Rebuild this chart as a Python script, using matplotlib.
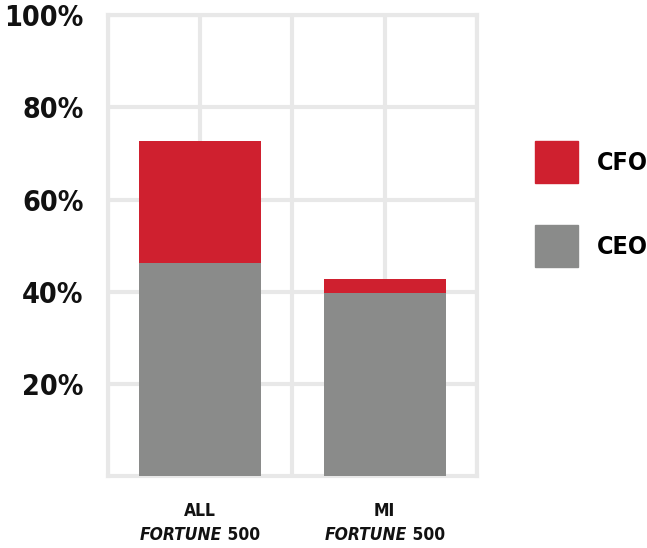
import matplotlib
matplotlib.use("Agg")
import matplotlib.pyplot as plt
from matplotlib.patches import Patch

categories = ["ALL", "MI"]
ceo = [46.2, 39.7]
cfo = [26.5, 3.1]
yticks = [20, 40, 60, 80, 100]
ytick_labels = ["20%", "40%", "60%", "80%", "100%"]

red = "#cf202f"
gray = "#8a8b8a"
grid_c = "#e8e8e8"
font = dict(family="DejaVu Sans", stretch="condensed", weight="bold")

fig = plt.figure(figsize=(6.47, 5.48), dpi=100)
ax = fig.add_axes([0.1669, 0.1305, 0.5703, 0.8421])

x = list(range(len(categories)))
ax.bar(x, ceo, width=0.66, color=gray, zorder=3)
ax.bar(x, cfo, bottom=ceo, width=0.66, color=red, zorder=3)

ax.set_xlim(-0.5, 1.5)
ax.set_ylim(0, 100)
ax.set_yticks(yticks)
ax.set_yticklabels(ytick_labels, color="#111111", **font)
ax.set_xticks([-0.5, 0, 0.5, 1, 1.5])
ax.set_xticklabels([])
ax.tick_params(length=0, pad=17.5, labelsize=20.5)
ax.grid(True, color=grid_c, linewidth=3, zorder=0)
for s in ax.spines.values():
    s.set_color(grid_c)
    s.set_linewidth(3)

# category labels: "ALL" / "MI" over italic FORTUNE + 500
fig.canvas.draw()
r = fig.canvas.get_renderer()
for xi, cat in zip(x, categories):
    ax.annotate(cat, xy=(xi, 0), xycoords=("data", "axes fraction"),
                xytext=(0, -18.5), textcoords="offset points",
                ha="center", va="top", fontsize=12.5, color="#111111", **font)
    t1 = ax.annotate("FORTUNE", xy=(xi, 0), xycoords=("data", "axes fraction"),
                     xytext=(0, -35.5), textcoords="offset points",
                     ha="left", va="top", fontsize=12.5, style="italic",
                     color="#111111", **font)
    t2 = ax.annotate(" 500", xy=(xi, 0), xycoords=("data", "axes fraction"),
                     xytext=(0, -35.5), textcoords="offset points",
                     ha="left", va="top", fontsize=12.5, color="#111111", **font)
    w1 = t1.get_window_extent(r).width * 72 / fig.dpi
    w2 = t2.get_window_extent(r).width * 72 / fig.dpi
    start = -(w1 + w2) / 2
    t1.set_position((start, -35.5))
    t2.set_position((start + w1, -35.5))

handles = [Patch(color=red, label="CFO"), Patch(color=gray, label="CEO")]
fig.legend(handles=handles, loc="upper left", bbox_to_anchor=(535 / 647, 1 - 141 / 548),
           frameon=False, borderpad=0, borderaxespad=0, handlelength=1.72,
           handleheight=2.21, handletextpad=0.76, labelspacing=1.68,
           prop=dict(size=18, **font))

fig.savefig("out.png", dpi=100)
